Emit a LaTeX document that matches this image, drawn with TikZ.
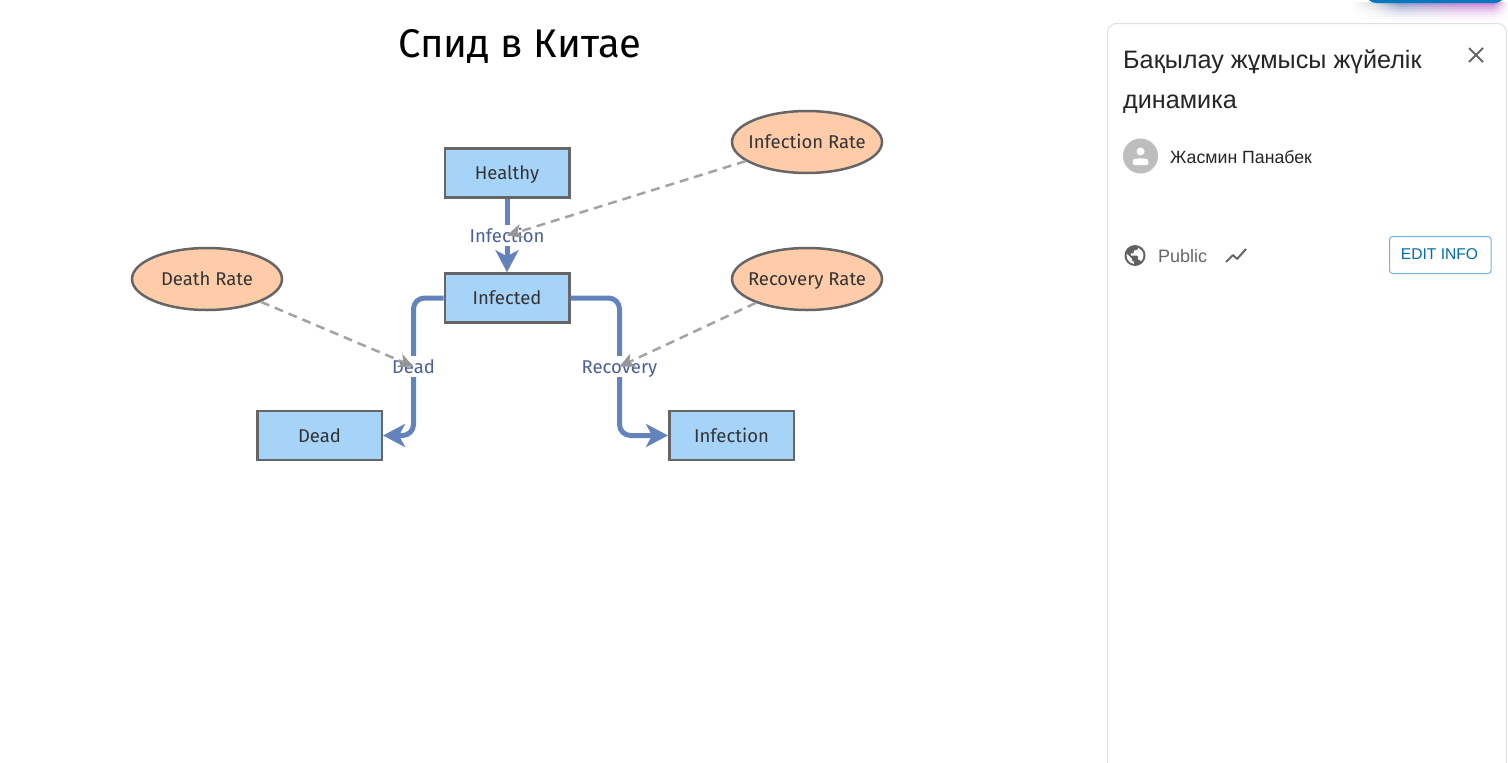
\documentclass[tikz,border=0pt]{standalone}
\usepackage{fontspec}
\setmainfont{Liberation Sans}
\newfontfamily\diafont{Fira Sans}
\usetikzlibrary{arrows.meta,shapes.geometric}
\definecolor{boxfill}{HTML}{A6D4F9}
\definecolor{ellfill}{HTML}{FFCCAA}
\definecolor{strokegray}{HTML}{666666}
\definecolor{flowblue}{HTML}{6482BB}
\definecolor{labelblue}{HTML}{4A5F9B}
\definecolor{linkgray}{HTML}{A3A3A3}
\definecolor{linktip}{HTML}{969696}
\definecolor{panelline}{HTML}{E0E0E0}
\definecolor{btnblue}{HTML}{0277BD}
\definecolor{shA}{HTML}{8C9BC4}
\definecolor{shB}{HTML}{C47FD2}
\tikzset{
 stockbox/.style={draw=strokegray,line width=2.5pt,fill=boxfill,minimum width=124.5pt,minimum height=49pt,inner sep=0pt,text=black!80,text height=17.5pt,text depth=4pt,font=\diafont\fontsize{18.5}{20}\selectfont},
 rateell/.style={ellipse,draw=strokegray,line width=2.5pt,fill=ellfill,minimum width=150pt,minimum height=62pt,inner sep=0pt,text=black!80,text height=17.5pt,text depth=4pt,font=\diafont\fontsize{18.5}{20}\selectfont},
 flow/.style={draw=flowblue,line width=5pt,rounded corners=11pt,-{Stealth[length=22pt,width=23pt,inset=6pt]}},
 flowlabel/.style={fill=white,inner xsep=1pt,inner ysep=0pt,text=labelblue,text height=17.5pt,text depth=4pt,font=\diafont\fontsize{18.5}{20}\selectfont},
 link/.style={draw=linkgray,line width=2.5pt,dash pattern=on 9pt off 6pt,-{Stealth[length=15pt,width=14pt,inset=4pt,color=linktip]}},
 paneltext/.style={anchor=base west,inner sep=0pt,text=black!85}
}
\begin{document}
\begin{tikzpicture}[x=1pt,y=-1pt]
\useasboundingbox (0,0) rectangle (1508,763);
\fill[white] (0,0) rectangle (1508,763);
% top button remnant with its soft shadow
\begin{scope}
\clip (0,0) rectangle (1508,763);
\foreach \r in {22,20,...,4}{
 \pgfmathtruncatemacro\P{90*((24-\r)/20)^2}
 \pgfmathtruncatemacro\Q{\P*0.15}
 \pgfdeclarehorizontalshading{shrow\r}{100bp}{color(0bp)=(white); color(25bp)=(white); color(32bp)=(black!\Q!white); color(40bp)=(shA!\P!white); color(61bp)=(shB!\P!white); color(70bp)=(shB!\P!white); color(75bp)=(white); color(100bp)=(white)}
 \shade[shading=shrow\r] (1352,2) rectangle (1508,\r);
}
\fill[btnblue,rounded corners=10pt] (1366,-20) rectangle (1505,3);
\end{scope}
% side panel
\draw[panelline,line width=1pt,rounded corners=9pt] (1107.5,790) -- (1107.5,23.5) -- (1506.5,23.5) -- (1506.5,790);
\node[paneltext,font=\fontsize{25.2}{30}\selectfont] (ptitleA) at (1123,68.5) {Бақылау жұмысы жүйелік};
\node[paneltext,font=\fontsize{25.2}{30}\selectfont] (ptitleB) at (1123,108) {динамика};
\draw[black!60,line width=2pt] (1469,48) -- (1483,62) (1483,48) -- (1469,62);
\fill[black!26] (1140.5,156) circle (17.5pt);
\fill[white] (1140.5,151.5) circle (4pt);
\fill[white,rounded corners=2pt] (1132.5,165) -- (1132.5,161.5) .. controls (1134,158) and (1147,158) .. (1148.5,161.5) -- (1148.5,165) -- cycle;
\node[paneltext,font=\fontsize{17.7}{20}\selectfont] (author) at (1170,163) {Жасмин Панабек};
% globe
\fill[black!62] (1135,255.5) circle (10.5pt);
\begin{scope}[shift={(1122.4,242.9)},x=1.05pt,y=-1.05pt]
\fill[white] (11,19.93) .. controls (7.05,19.44) and (4,16.08) .. (4,12) .. controls (4,11.38) and (4.08,10.79) .. (4.21,10.21) -- (9,15) -- (9,16) .. controls (9,17.1) and (9.9,18) .. (11,18) -- cycle;
\fill[white] (17.9,17.39) .. controls (17.64,16.58) and (16.9,16) .. (16,16) -- (15,16) -- (15,13) .. controls (15,12.45) and (14.55,12) .. (14,12) -- (8,12) -- (8,10) -- (10,10) .. controls (10.55,10) and (11,9.55) .. (11,9) -- (11,7) -- (13,7) .. controls (14.1,7) and (15,6.1) .. (15,5) -- (15,4.59) .. controls (17.93,5.78) and (20,8.65) .. (20,12) .. controls (20,14.08) and (19.2,15.97) .. (17.9,17.39) -- cycle;
\end{scope}
\node[paneltext,text=black!60,font=\fontsize{18}{20}\selectfont] (pub) at (1158,262) {Public};
\draw[black!60,line width=2pt,line join=bevel] (1226,262) -- (1233,255) -- (1237,259) -- (1246,249);
\draw[btnblue!55,line width=1pt,rounded corners=3pt,fill=white] (1389.5,236.5) rectangle (1491,273.5);
\node[inner sep=0pt,text=btnblue!90!black,font=\fontsize{15.6}{20}\selectfont,anchor=center] (edit) at (1439.5,254.5) {EDIT INFO};
% title
\node[inner sep=0pt,anchor=base,text=black,font=\diafont\fontsize{40}{46}\selectfont] (title) at (520,57) {Спид в Китае};
% nodes
\node[stockbox] (healthy) at (507,173) {Healthy};
\node[stockbox] (infected) at (507,298) {Infected};
\node[stockbox] (dead) at (319.5,435.5) {Dead};
\node[stockbox] (infection) at (731.5,435.5) {Infection};
\node[rateell] (irate) at (807,142) {\makebox[0pt]{Infection Rate}};
\node[rateell] (rrate) at (807,279) {\makebox[0pt]{Recovery Rate}};
\node[rateell] (drate) at (207,279) {\makebox[0pt]{Death Rate}};
\coordinate (mi) at (507,235.5);
\coordinate (md) at (413.5,366.5);
\coordinate (mr) at (619.5,366.5);
% flows (sharp corners at the end keeps the tips from being rounded away)
\draw[flow] (healthy.south) -- (infected.north) [sharp corners];
\draw[flow] (infected.west) -| (md) |- (dead.east) [sharp corners];
\draw[flow] (infected.east) -| (mr) |- (infection.west) [sharp corners];
% labels
\node[flowlabel] (li) at (mi) {Infection};
\node[flowlabel] (ld) at (md) {Dead};
\node[flowlabel] (lr) at (mr) {Recovery};
% links
\draw[link] (irate) -- (mi);
\draw[link] (drate) -- (md);
\draw[link] (rrate) -- (mr);
\end{tikzpicture}
\end{document}
